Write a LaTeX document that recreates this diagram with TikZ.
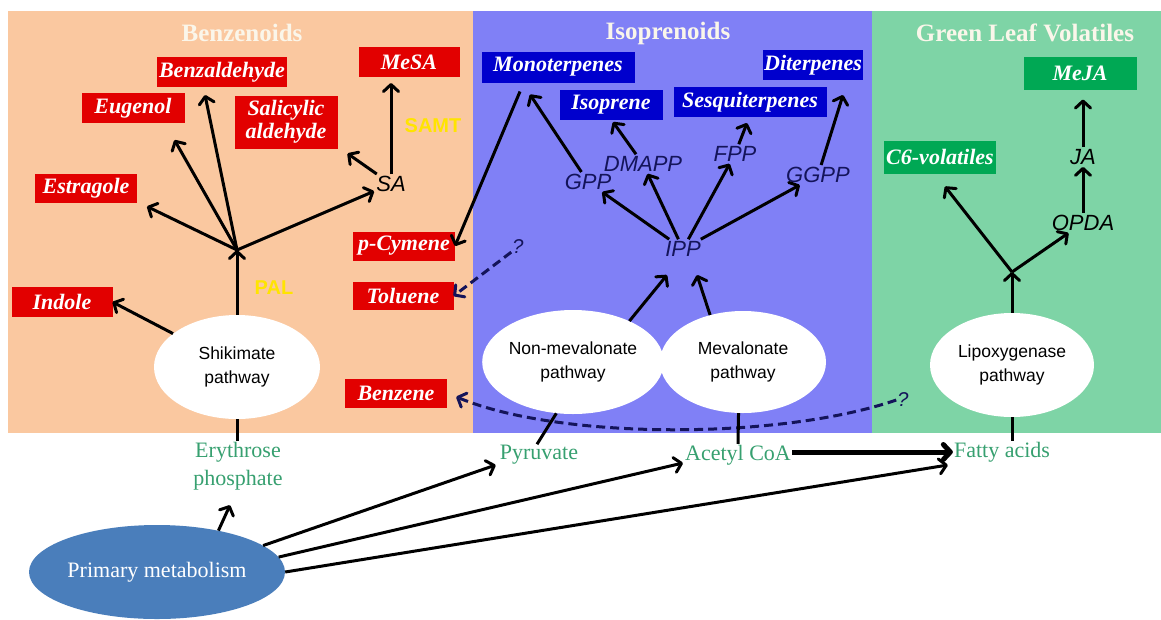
\documentclass[tikz,border=0pt]{standalone}
\usepackage{fontspec}
\setmainfont{Liberation Serif}
\setsansfont{Liberation Sans}
\usetikzlibrary{shapes.geometric,arrows.meta,calc}

\definecolor{orangebg}{RGB}{250,200,160}
\definecolor{bluebg}{RGB}{128,128,246}
\definecolor{greenbg}{RGB}{126,212,166}
\definecolor{redbox}{RGB}{226,0,0}
\definecolor{bluebox}{RGB}{0,0,205}
\definecolor{greenbox}{RGB}{0,168,84}
\definecolor{titlecol}{RGB}{250,246,234}
\definecolor{navy}{RGB}{20,20,90}
\definecolor{metgreen}{RGB}{55,160,112}
\definecolor{primblue}{RGB}{74,126,187}
\definecolor{yell}{RGB}{255,228,0}

\tikzset{
 cmpd/.style={text=white, font=\fontsize{22}{23}\selectfont\bfseries\itshape, inner sep=0pt, outer sep=0pt, align=center},
 redcmpd/.style={cmpd, fill=redbox},
 bluecmpd/.style={cmpd, fill=bluebox},
 greencmpd/.style={cmpd, fill=greenbox},
 paneltitle/.style={text=titlecol, font=\fontsize{25}{28}\selectfont\bfseries},
 interm/.style={font=\sffamily\itshape\fontsize{22}{24}\selectfont, inner sep=2pt},
 pathwy/.style={ellipse, fill=white, inner sep=0pt, align=center, font=\sffamily\fontsize{17.5}{24}\selectfont},
 metab/.style={text=metgreen, font=\fontsize{22}{28}\selectfont, align=center, inner sep=1pt},
 enzyme/.style={text=yell, font=\sffamily\bfseries\fontsize{20}{22}\selectfont},
 qmark/.style={text=navy, font=\sffamily\itshape\fontsize{20}{22}\selectfont, inner sep=1pt},
 arr/.style={line width=3pt, -{Straight Barb[length=7pt,width=15pt,round]}},
 plainln/.style={line width=3pt},
 darr/.style={line width=3pt, draw=navy, dash pattern=on 9pt off 5pt, -{Straight Barb[length=7pt,width=15pt,round]}},
}

\begin{document}
\begin{tikzpicture}[x=1pt,y=-1pt]
\useasboundingbox (0,0) rectangle (1161,619);
\fill[white] (0,0) rectangle (1161,619);

% panels
\fill[orangebg] (8,11) rectangle (473,433);
\fill[bluebg] (473,11) rectangle (872,433);
\fill[greenbg] (872,11) rectangle (1161,433);

% titles
\node[paneltitle] (tben) at (242,33) {Benzenoids};
\node[paneltitle] (tiso) at (668,33) {Isoprenoids};
\node[paneltitle] (tglv) at (1025,33) {Green Leaf Volatiles};

% benzenoid compounds
\node[redcmpd, minimum width=130pt, minimum height=30pt] (benzald) at (222,72) {Benzaldehyde};
\node[redcmpd, minimum width=101pt, minimum height=30pt] (mesa) at (409,62) {MeSA};
\node[redcmpd, minimum width=103pt, minimum height=30pt] (eugenol) at (133,108) {Eugenol};
\node[redcmpd, minimum width=103pt, minimum height=53pt] (salald) at (286,122) {Salicylic\\aldehyde};
\node[redcmpd, minimum width=102pt, minimum height=29pt] (estragole) at (86,188) {Estragole};
\node[redcmpd, minimum width=102pt, minimum height=29pt] (pcymene) at (404,246) {p-Cymene};
\node[redcmpd, minimum width=101pt, minimum height=28pt] (toluene) at (403,296) {Toluene};
\node[redcmpd, minimum width=101pt, minimum height=30pt] (indole) at (62,302) {Indole};
\node[redcmpd, minimum width=102pt, minimum height=29pt] (benzene) at (396,393) {Benzene};

% isoprenoid compounds
\node[bluecmpd, minimum width=153pt, minimum height=31pt] (monoterp) at (558,67) {Monoterpenes};
\node[bluecmpd, minimum width=100pt, minimum height=30pt] (diterp) at (813,65) {Diterpenes};
\node[bluecmpd, minimum width=103pt, minimum height=30pt] (isoprene) at (611,105) {Isoprene};
\node[bluecmpd, minimum width=153pt, minimum height=30pt] (sesqui) at (750,102) {Sesquiterpenes};

% GLV compounds
\node[greencmpd, minimum width=113pt, minimum height=33pt] (meja) at (1080,73) {MeJA};
\node[greencmpd, minimum width=112pt, minimum height=33pt] (c6) at (940,157) {C6-volatiles};

% intermediates
\node[interm] (sa) at (391,184) {SA};
\node[enzyme] (samt) at (433,126) {SAMT};
\node[enzyme] (pal) at (274,288) {PAL};
\node[interm, text=navy] (gpp) at (588,182) {GPP};
\node[interm, text=navy] (dmapp) at (643,164) {DMAPP};
\node[interm, text=navy] (fpp) at (735,154) {FPP};
\node[interm, text=navy] (ggpp) at (818,175) {GGPP};
\node[interm, text=navy] (ipp) at (683,249) {IPP};
\node[interm] (ja) at (1083,157) {JA};
\node[interm] (opda) at (1083,223) {OPDA};
\node[qmark] (q1) at (518,247) {?};
\node[qmark] (q2) at (903,400) {?};

% pathway ellipses
\node[pathwy, minimum width=166pt, minimum height=104pt] (shik) at (237,367) {Shikimate\\pathway};
\node[pathwy, minimum width=164pt, minimum height=104pt] (nonmev) at (573,362) {Non-mevalonate\\pathway};
\node[pathwy, minimum width=166pt, minimum height=102pt] (mev) at (743,362) {Mevalonate\\pathway};
\node[pathwy, minimum width=164pt, minimum height=104pt] (lipox) at (1012,365) {Lipoxygenase\\pathway};

% primary metabolism
\node[ellipse, fill=primblue, minimum width=256pt, minimum height=94pt, inner sep=0pt, text=white, font=\fontsize{22}{26}\selectfont] (primary) at (157,572) {Primary metabolism};

% precursors
\node[metab] (eryth) at (238,466) {Erythrose\\phosphate};
\node[metab] (pyruvate) at (539,455) {Pyruvate};
\node[metab] (acetyl) at (738,455) {Acetyl CoA};
\node[metab] (fatty) at (1002,452) {Fatty acids};

% branch points
\coordinate (bb) at (237,250);
\coordinate (gb) at (1012,272);

% benzenoid arrows
\draw[arr] (shik.north) -- (bb);
\draw[arr] (bb) -- ([shift={(10,4)}]estragole.south east);
\draw[arr] (bb) -- ([shift={(-10,17)}]eugenol.south east);
\draw[arr] (bb) -- ([shift={(-17,8)}]benzald.south);
\draw[arr] (bb) -- (sa);
\draw[arr] (sa) -- ([shift={(10,5)}]salald.south east);
\draw[arr] (sa.north) -- ($(sa.north |- mesa.south)+(0,6)$);
\draw[arr] (shik) -- (indole.east);

% isoprenoid arrows
\draw[arr] ([shift={(-38,9)}]monoterp.south) -- (pcymene.east);
\draw[darr] (q1) -- (toluene.east);
\draw[arr] (gpp) -- ([shift={(-28,12)}]monoterp.south);
\draw[arr] (dmapp) -- ([shift={(2,2)}]isoprene.south);
\draw[arr] (fpp) -- ([shift={(-3,6)}]sesqui.south);
\draw[arr] (ggpp) -- ([shift={(30,15)}]diterp.south);
\draw[arr] (ipp) -- (gpp);
\draw[arr] (ipp) -- (dmapp);
\draw[arr] (ipp) -- (fpp);
\draw[arr] (ipp) -- (ggpp);
\draw[arr] (nonmev.36) -- ([shift={(-16,26)}]ipp.center);
\draw[arr] (mev.125) -- ([shift={(14,26)}]ipp.center);

% dashed curve to benzene
\draw[darr, shorten >=10pt] (q2.west) .. controls (780,440) and (560,440) .. (benzene.east);

% GLV arrows
\draw[arr] (lipox.north) -- (gb);
\draw[arr] (gb) -- ([shift={(5,13)}]c6.south);
\draw[arr] (gb) -- (opda);
\draw[arr] (opda) -- (ja);
\draw[arr, shorten >=10pt] (ja) -- (ja |- meja.south);

% links to precursors
\draw[plainln] (shik.south) -- (shik.south |- eryth.north);
\draw[plainln] (nonmev.-108) -- ([xshift=-2pt]pyruvate.north);
\draw[plainln] (mev.-95) -- (acetyl.north);
\draw[plainln] (lipox.south) -- (lipox.south |- fatty.north);

% primary metabolism arrows
\draw[arr] (primary.34) -- ([shift={(-8,14)}]eryth.south);
\draw[arr] (primary.14) -- ([shift={(-3,10)}]pyruvate.west);
\draw[arr] (primary.7) -- ([shift={(-1,8)}]acetyl.west);
\draw[arr] (primary.east) -- ([shift={(-5,13)}]fatty.west);
\draw[arr, line width=5pt] ([shift={(0,-3)}]acetyl.east) -- (fatty.west);
\end{tikzpicture}
\end{document}
